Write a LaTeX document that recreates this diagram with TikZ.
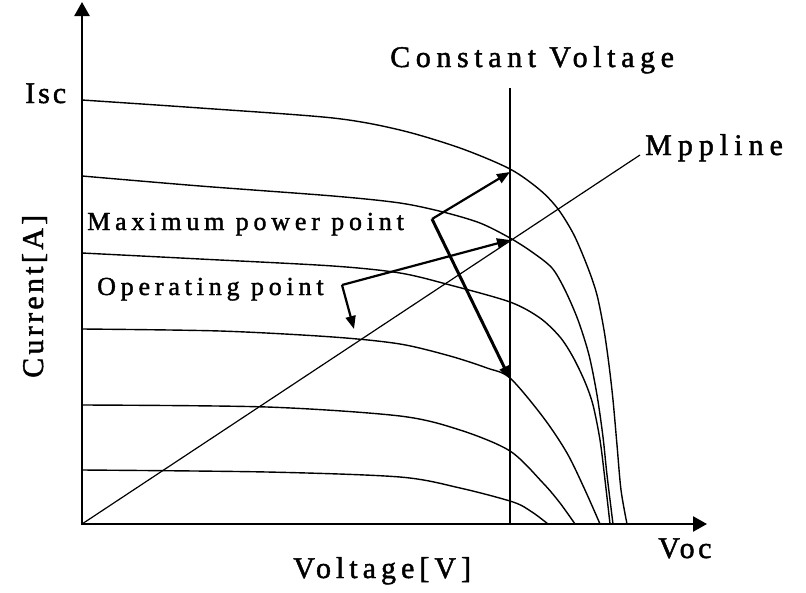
\documentclass[tikz,border=0pt]{standalone}
\usepackage{fontspec}
\setmainfont{Liberation Serif}
\newfontfamily\fCV[LetterSpace=18.7,FakeBold=1.5]{Liberation Serif}
\newfontfamily\fMpp[LetterSpace=20,FakeBold=1.5]{Liberation Serif}
\newfontfamily\fIsc[LetterSpace=10,FakeBold=1.5]{Liberation Serif}
\newfontfamily\fVoc[LetterSpace=12,FakeBold=1.5]{Liberation Serif}
\newfontfamily\fVolt[LetterSpace=16.7,FakeBold=1.5]{Liberation Serif}
\newfontfamily\fCur[LetterSpace=11,FakeBold=1.5]{Liberation Serif}
\newfontfamily\fAnn[LetterSpace=18.5,FakeBold=1.5]{Liberation Serif}
\usetikzlibrary{arrows.meta}
\tikzset{
  ivcurve/.style={line width=1.4pt, line join=round},
  axisline/.style={line width=2.5pt, -{Triangle[length=14pt,width=15pt]}},
  annarrow/.style={line width=2.2pt, line join=round, -{Triangle[length=13pt,width=10pt]}},
  biglbl/.style={inner sep=0pt, anchor=base west},
  annlbl/.style={inner sep=0pt, anchor=base west},
}
\begin{document}
\begin{tikzpicture}[x=1pt,y=-1pt]
\useasboundingbox (0,0) rectangle (806,592);
% axes
\coordinate (O) at (82,524);
\coordinate (ytip) at (82,2);
\coordinate (xtip) at (707,524);
\draw[axisline] (82,525.2) -- (ytip);
\draw[axisline] (O) -- (xtip);
% I-V curves
\draw[ivcurve] plot[smooth,tension=0.5] coordinates {(82,100) (200,108) (333,118) (400,130) (460,148) (510,169) (540,190) (558,209) (574,235) (588,268) (597,295) (604,330) (609,365) (613,400) (617,445) (621,490) (627,524)};
\draw[ivcurve] plot[smooth,tension=0.5] coordinates {(82,176) (200,186) (333,196) (400,203) (443,212) (480,223) (510,238) (532,252) (552,268) (565,290) (578,320) (589,355) (597,395) (603,437) (607,475) (613,524)};
\draw[ivcurve] plot[smooth,tension=0.5] coordinates {(82,253) (200,259) (333,266) (400,273) (450,285) (510,302) (540,318) (560,337) (573,357) (585,382) (593,405) (600,440) (605,480) (610,524)};
\draw[ivcurve] plot[smooth,tension=0.5] coordinates {(82,329) (220,331) (333,337) (400,344) (450,356) (487,368) (510,378) (543,417) (567,453) (585,490) (600,524)};
\draw[ivcurve] plot[smooth,tension=0.5] coordinates {(82,405) (267,407) (400,416) (460,430) (510,451) (543,483) (560,503) (575,524)};
\draw[ivcurve] plot[smooth,tension=0.5] coordinates {(82,470) (267,472) (400,477) (460,488) (513,502) (532,512) (548,524)};
% constant voltage line
\coordinate (cvtop) at (510,88);
\coordinate (cvbot) at (510,524);
\draw[line width=1.8pt] (cvtop) -- (cvbot);
% mpp line
\coordinate (mppend) at (640,155);
\draw[line width=1.2pt] (O) -- (mppend);
% labels
\node[biglbl, font=\fCV\fontsize{30}{36}\selectfont] (cvlbl) at (390,67) {Constant Voltage};
\node[biglbl, font=\fMpp\fontsize{30}{36}\selectfont] (mpplbl) at (645,155) {Mppline};
\node[biglbl, font=\fIsc\fontsize{30}{36}\selectfont] (isc) at (25,103) {Isc};
\node[biglbl, font=\fVoc\fontsize{30}{36}\selectfont] (voc) at (658,558) {Voc};
\node[biglbl, font=\fVolt\fontsize{30}{36}\selectfont] (volt) at (293,578) {Voltage[V]};
\node[biglbl, font=\fCur\fontsize{30}{36}\selectfont, rotate=90] (cur) at (43,378) {Current[A]};
\node[annlbl, font=\fAnn\fontsize{26}{31}\selectfont] (mpptxt) at (87,230) {Maximum power point};
\node[annlbl, font=\fAnn\fontsize{26}{31}\selectfont] (optxt) at (97,295) {Operating point};
% annotation arrows
\coordinate (mpc) at (432,219);
\coordinate (mpA) at (510,172);
\coordinate (mpB) at (510,379);
\coordinate (opc) at (342,285);
\coordinate (opA) at (510,240);
\coordinate (opB) at (354,329);
\draw[annarrow] (mpc) -- (mpA);
\draw[annarrow, line width=3pt] (mpc) -- (mpB);
\draw[annarrow] (opc) -- (opA);
\draw[annarrow] (opc) -- (opB);
\end{tikzpicture}
\end{document}
